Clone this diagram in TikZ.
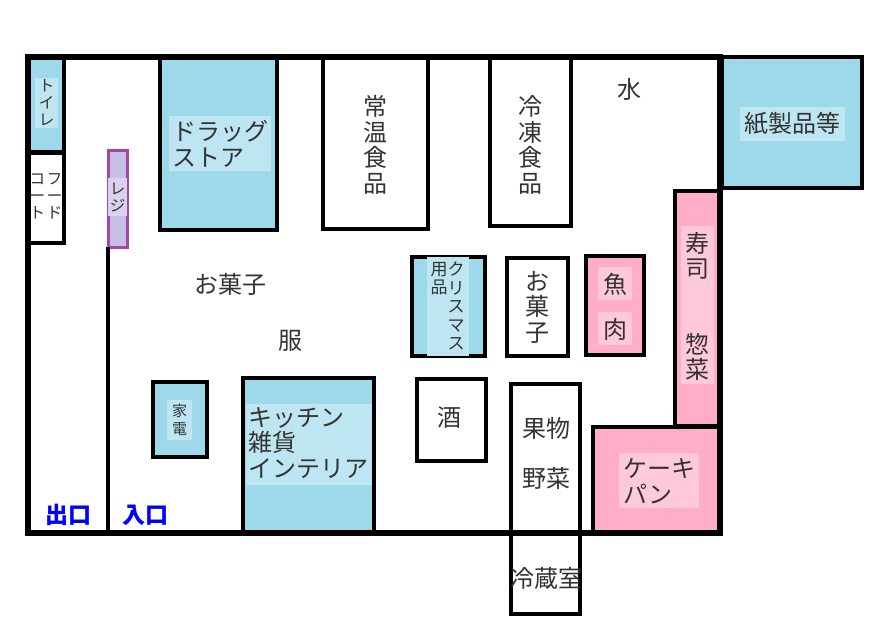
\documentclass[tikz,border=0pt]{standalone}
\usepackage{fontspec}
\newfontfamily\cjk{Noto Sans CJK JP}
\definecolor{shelfblue}{HTML}{9DD9EA}
\definecolor{lblblue}{HTML}{BDE5F2}
\definecolor{shelfpink}{HTML}{FFAEC9}
\definecolor{lblpink}{HTML}{FFC8DB}
\definecolor{regifill}{HTML}{C8BFE7}
\definecolor{regiedge}{HTML}{A349A4}
\definecolor{lblregi}{HTML}{D9D2EE}
\definecolor{txt}{HTML}{333333}
\definecolor{exitblue}{HTML}{0000FF}
\tikzset{
  wall/.style={line width=5.5pt},
  shelf/.style={draw=black,line width=4pt},
  blueshelf/.style={shelf,fill=shelfblue},
  pinkshelf/.style={shelf,fill=shelfpink},
  lbl/.style={text=txt,font=\cjk\fontsize{24}{25.5}\selectfont,align=center,inner sep=0pt},
  lblsmall/.style={text=txt,font=\cjk\fontsize{15.5}{17}\selectfont,align=center,inner sep=0pt},
  lbltiny/.style={text=txt,font=\cjk\fontsize{15}{18}\selectfont,align=center,inner sep=0pt},
  lblxmas/.style={text=txt,font=\cjk\fontsize{17}{18.5}\selectfont,align=center,inner sep=0pt,anchor=north},
  door/.style={text=exitblue,font=\cjk\bfseries\fontsize{23}{25}\selectfont,inner sep=0pt},
}
\begin{document}
\begin{tikzpicture}[x=1pt,y=-1pt]
\useasboundingbox (0,0) rectangle (877,638);
\fill[white] (0,0) rectangle (877,638);
% shelves
\draw[blueshelf] (28,57) rectangle (64,152);
\fill[lblblue] (35,78) rectangle (58,128);
\node[lblsmall] (toilet) at (46.5,103) {ト\\イ\\レ};
\draw[shelf,fill=white] (28,153) rectangle (64,243);
\node[lblsmall,anchor=north] (food) at (46,172) {\begin{tabular}{@{}c@{\hspace{2pt}}c@{}}コ&フ\\ー&ー\\ト&ド\end{tabular}};
\draw[draw=regiedge,line width=3pt,fill=regifill] (108,150) rectangle (127,247);
\fill[lblregi] (108,178) rectangle (127,216);
\node[lblsmall] (regi) at (117.5,197) {レ\\ジ};
\draw[blueshelf] (160,57) rectangle (277,230);
\fill[lblblue] (169,116) rectangle (271,171);
\node[lbl,align=left,anchor=west] (drug) at (172,144) {ドラッグ\\ストア};
\draw[shelf,fill=white] (323,57) rectangle (428,229);
\node[lbl] (jouon) at (375.5,145) {常\\温\\食\\品};
\draw[shelf,fill=white] (490,57) rectangle (571,226);
\node[lbl] (reitou) at (530.5,145) {冷\\凍\\食\\品};
\node[lbl] (mizu) at (629,89) {水};
\draw[blueshelf] (722,57) rectangle (862,188);
\fill[lblblue] (740,107) rectangle (845,141);
\node[lbl] (paper) at (792.5,124) {紙製品等};
\node[lbl] (okashi1) at (230,284) {お菓子};
\node[lbl] (fuku) at (290,341) {服};
\draw[blueshelf] (412,257) rectangle (485,356);
\fill[lblblue] (427,257) rectangle (469,356);
\node[lblxmas] (xmas) at (456,262) {ク\\リ\\ス\\マ\\ス};
\node[lblxmas] (yohin) at (439,262) {用\\品};
\draw[shelf,fill=white] (507,258) rectangle (568,356);
\node[lbl] (okashi2) at (537.5,307) {お\\菓\\子};
\draw[pinkshelf] (586,256) rectangle (644,355);
\fill[lblpink] (598,267) rectangle (632,300);
\fill[lblpink] (598,312) rectangle (632,345);
\node[lbl] (sakana) at (615,284) {魚};
\node[lbl] (niku) at (615,329) {肉};
\draw[pinkshelf] (675,191) rectangle (720,426);
\fill[lblpink] (681,226) rectangle (714,384);
\node[lbl] (sushi) at (697.5,256) {寿\\司};
\node[lbl] (souzai) at (697.5,357) {惣\\菜};
\draw[blueshelf] (153,382) rectangle (207,457);
\fill[lblblue] (167,400) rectangle (192,440);
\node[lbltiny] (kaden) at (179.5,420) {家\\電};
\draw[blueshelf] (243,378) rectangle (374,533);
\fill[lblblue] (246,404) rectangle (372,485);
\node[lbl,align=left,anchor=west] (kitchen) at (248,443) {キッチン\\雑貨\\インテリア};
\draw[shelf,fill=white] (417,379) rectangle (486,461);
\node[lbl] (sake) at (449,418) {酒};
\draw[shelf,fill=white] (511,384) rectangle (580,533);
\node[lbl] (kudamono) at (546,428) {果物};
\node[lbl] (yasai) at (546,478) {野菜};
\draw[shelf,fill=white] (511,533) rectangle (580,614);
\node[lbl] (reizou) at (546,578) {冷蔵室};
\draw[pinkshelf] (593,427) rectangle (720,533);
\fill[lblpink] (619,453) rectangle (699,508);
\node[lbl,align=left,anchor=west] (cake) at (623,481) {ケーキ\\パン};
% walls
\draw[wall] (28,57) rectangle (720,533);
\coordinate (sepTop) at (108,247);
\coordinate (sepBot) at (108,533);
\draw[line width=3.5pt] (sepTop) -- (sepBot);
\node[door] (exit) at (68,515) {出口};
\node[door] (entr) at (145,515) {入口};
\end{tikzpicture}
\end{document}
